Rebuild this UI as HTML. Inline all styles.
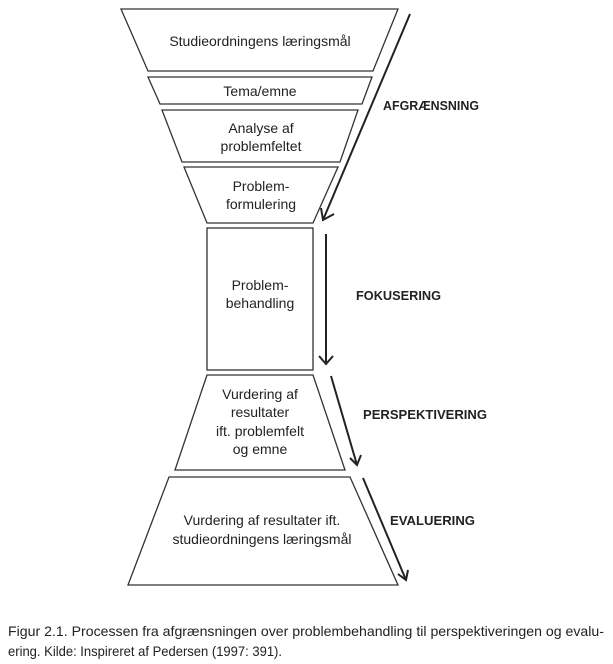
<!DOCTYPE html>
<html><head><meta charset="utf-8"><style>
html,body{margin:0;padding:0;background:#fff;}
svg{display:block;}
text{font-family:"Liberation Sans",sans-serif;fill:#222;}
</style></head><body>
<svg width="613" height="664" viewBox="0 0 613 664" xmlns="http://www.w3.org/2000/svg">
<g fill="#fff" stroke="#333" stroke-width="1.3">
<polygon points="121,9 398,9 373,71 148,71"/>
<polygon points="148,77 372,77 362,104 160,104"/>
<polygon points="162,110 358,110 340,162 182,162"/>
<polygon points="184,167 338,167 313,223 207,223"/>
<rect x="207" y="228" width="106" height="142"/>
<polygon points="207,375 313,375 345,470 175,470"/>
<polygon points="169,477 350,477 398,585 128,585"/>
</g>
<g stroke="#222" stroke-width="2" fill="none">
<line x1="410" y1="14" x2="323" y2="220"/>
<polyline points="321,208 323,220 334,214"/>
<line x1="326" y1="234" x2="326" y2="364"/>
<polyline points="319,356 326,364 333,356"/>
<line x1="331" y1="376" x2="357" y2="465"/>
<polyline points="350,458 357,465 361,455"/>
<line x1="363" y1="478" x2="406" y2="580"/>
<polyline points="398,574 406,580 408,570"/>
</g>
<g font-size="14" text-anchor="middle">
<text x="260" y="46">Studieordningens læringsmål</text>
<text x="260" y="96">Tema/emne</text>
<text x="261" y="133">Analyse af</text>
<text x="261" y="151">problemfeltet</text>
<text x="261" y="191">Problem-</text>
<text x="261" y="209">formulering</text>
<text x="260" y="290">Problem-</text>
<text x="260" y="308">behandling</text>
<text x="260" y="399">Vurdering af</text>
<text x="260" y="417">resultater</text>
<text x="260" y="436">ift. problemfelt</text>
<text x="260" y="454">og emne</text>
<text x="262" y="525">Vurdering af resultater ift.</text>
<text x="262" y="544">studieordningens læringsmål</text>
</g>
<g font-size="13" font-weight="bold">
<text x="383" y="110" textLength="96" lengthAdjust="spacingAndGlyphs">AFGRÆNSNING</text>
<text x="356" y="300" textLength="85" lengthAdjust="spacingAndGlyphs">FOKUSERING</text>
<text x="363" y="419" textLength="124" lengthAdjust="spacingAndGlyphs">PERSPEKTIVERING</text>
<text x="390" y="525" textLength="85" lengthAdjust="spacingAndGlyphs">EVALUERING</text>
</g>
<g font-size="14">
<text x="8" y="636" textLength="596" lengthAdjust="spacingAndGlyphs">Figur 2.1. Processen fra afgrænsningen over problembehandling til perspektiveringen og evalu-</text>
<text x="8" y="656" textLength="274" lengthAdjust="spacingAndGlyphs">ering. Kilde: Inspireret af Pedersen (1997: 391).</text>
</g>
</svg>
</body></html>
